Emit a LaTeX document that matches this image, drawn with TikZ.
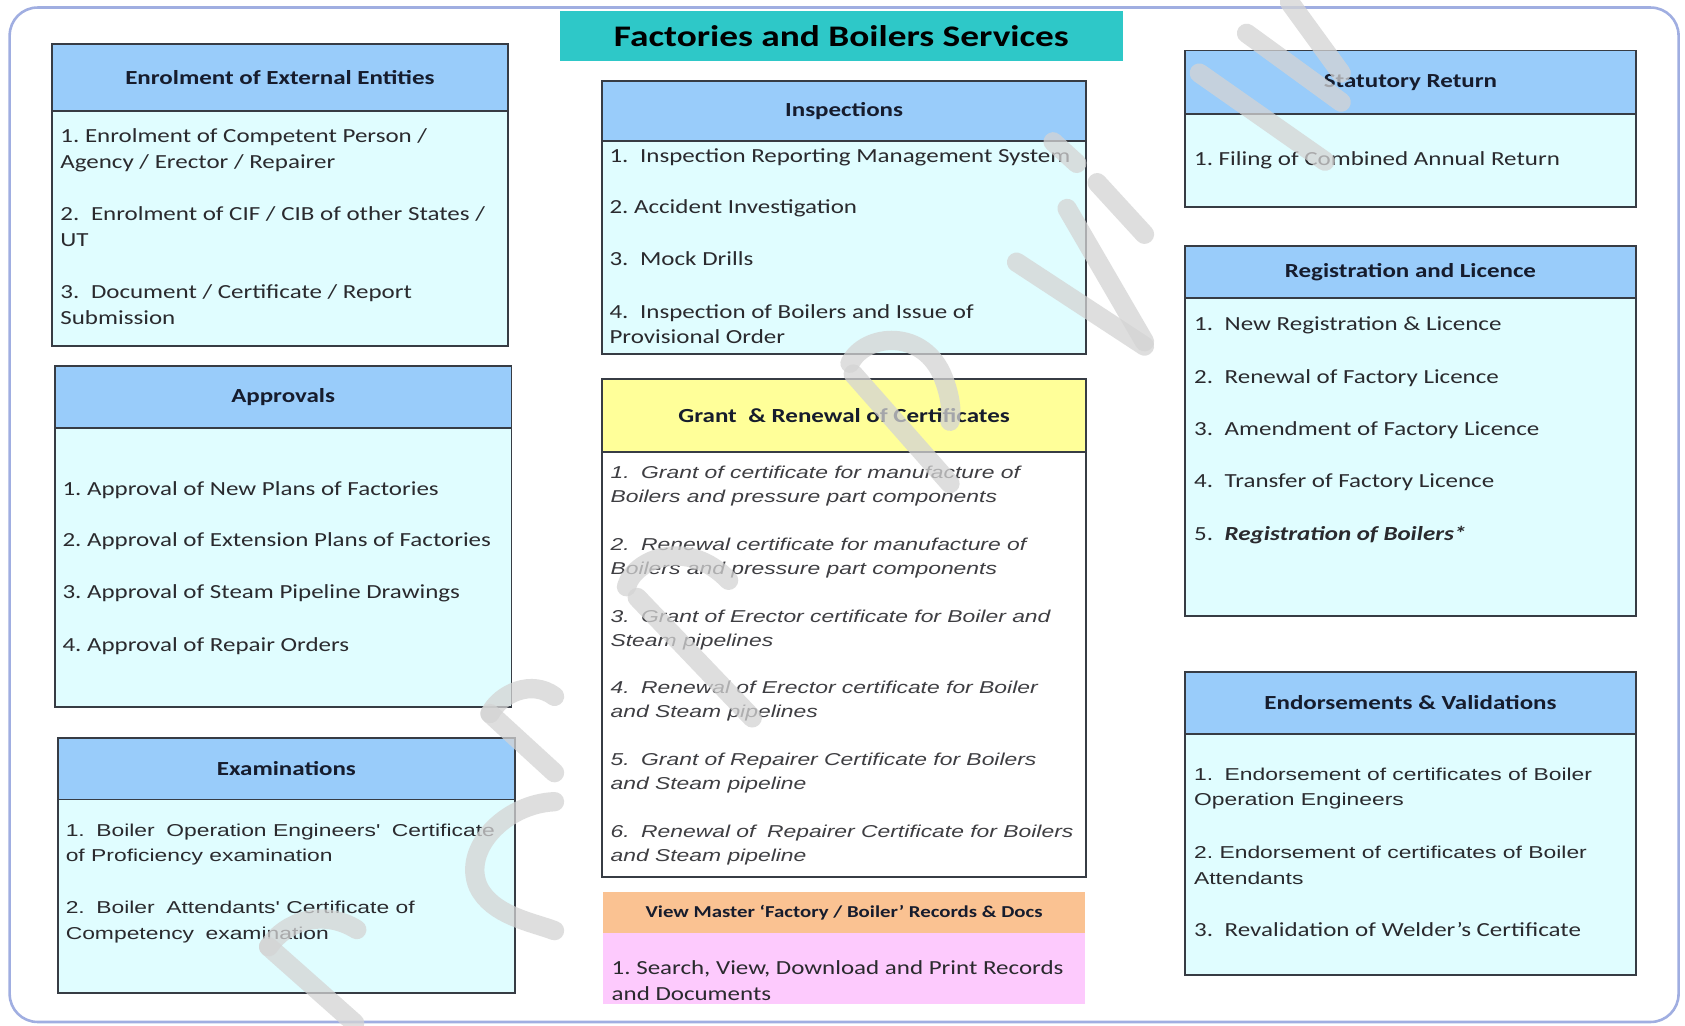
\documentclass[tikz,border=0pt]{standalone}
\usepackage{fontspec}
\setmainfont{Carlito}[FakeStretch=1.25]
\newfontfamily\arialfont{Liberation Sans}[FakeStretch=1.33]
\definecolor{hdrblue}{RGB}{153,204,250}
\definecolor{bodycyan}{RGB}{224,253,255}
\definecolor{boxline}{RGB}{55,60,68}
\definecolor{teal}{RGB}{46,200,200}
\definecolor{hdryellow}{RGB}{255,255,153}
\definecolor{hdrorange}{RGB}{250,194,146}
\definecolor{pinkbody}{RGB}{253,202,253}
\definecolor{framecol}{RGB}{160,174,225}
\definecolor{hdrtext}{RGB}{22,28,45}
\definecolor{itemtext}{RGB}{42,42,46}
\definecolor{granttext}{RGB}{62,62,66}
\definecolor{wmark}{RGB}{212,212,212}
\newcommand\ds{\ \hspace{0.3em}}
% name, x1, y1, x2, yh, y2, title, header fill, body fill
\newcommand\panel[9]{%
  \node[bodybox, fill=#9, minimum width={#4-#2}, minimum height={#6-#5}]
    (#1b) at ({(#2+#4)/2},{(#5+#6)/2}) {};
  \node[hdrbox, fill=#8, minimum width={#4-#2}, minimum height={#5-#3}]
    (#1h) at ({(#2+#4)/2},{(#3+#5)/2}) {#7};
}
\newcommand\itm[4][]{%
  \node[item,#1] (#2) at (#3) {\begin{tabular}[t]{@{}l@{}}#4\end{tabular}};}
\begin{document}
\begin{tikzpicture}[x=1pt,y=-1pt,
  bodybox/.style={draw=boxline, line width=1.8pt, inner sep=0pt},
  hdrbox/.style={draw=boxline, line width=1.8pt, inner sep=0pt, text=hdrtext,
    font=\fontsize{18.6}{22}\selectfont\bfseries},
  item/.style={anchor=base west, inner sep=0pt, text=itemtext,
    font=\frenchspacing\fontsize{18.6}{24}\selectfont},
  arial/.style={font=\frenchspacing\arialfont\fontsize{16}{24}\selectfont},
  grantit/.style={text=granttext,
    font=\frenchspacing\arialfont\itshape\fontsize{16}{22.5}\selectfont},
  titlebox/.style={fill=teal, inner sep=0pt, text=black,
    font=\fontsize{27.8}{30}\selectfont\bfseries},
  wm/.style={draw=wmark, line width=18pt, line cap=round, opacity=0.75}]
\useasboundingbox (0,0) rectangle (1568,954);
\fill[white] (0,0) rectangle (1568,954);
\draw[framecol, line width=2.4pt, rounded corners=26pt] (9,7) rectangle (1562,951);

% title
\node[titlebox, minimum width=524, minimum height=47] (title) at (783,33.5)
  {Factories and Boilers Services};

% left column
\panel{enr}{48}{41}{473}{103}{322}{Enrolment of External Entities}{hdrblue}{bodycyan}
\itm{enr1}{56,133}{1. Enrolment of Competent Person /\\Agency / Erector / Repairer}
\itm{enr2}{56,205}{2.\ds Enrolment of CIF / CIB of other States /\\UT}
\itm{enr3}{56,278}{3.\ds Document / Certificate / Report\\Submission}

\panel{app}{51}{341}{476}{398}{658}{Approvals}{hdrblue}{bodycyan}
\itm{app1}{58,461}{1. Approval of New Plans of Factories}
\itm{app2}{58,509}{2. Approval of Extension Plans of Factories}
\itm{app3}{58,557}{3. Approval of Steam Pipeline Drawings}
\itm{app4}{58,606}{4. Approval of Repair Orders}

\panel{exa}{54}{687}{479}{744}{924}{Examinations}{hdrblue}{bodycyan}
\itm[arial]{exa1}{61,778}{1.\ds Boiler\ds Operation Engineers'\ds Certificate\\of Proficiency examination}
\itm[arial]{exa2}{61,850}{2.\ds Boiler\ds Attendants' Certificate of\\Competency\ds examination}

% middle column
\panel{ins}{560}{75}{1011}{131}{329}{Inspections}{hdrblue}{bodycyan}
\itm{ins1}{567,151}{1.\ds Inspection Reporting Management System}
\itm{ins2}{567,199}{2. Accident Investigation}
\itm{ins3}{567,247}{3.\ds Mock Drills}
\itm{ins4}{567,296}{4.\ds Inspection of Boilers and Issue of\\Provisional Order}

\panel{gra}{560}{353}{1011}{421}{816}{Grant\ds \& Renewal of Certificates}{hdryellow}{white}
\itm[grantit]{gra1}{568,445}{1.\ds Grant of certificate for manufacture of\\Boilers and pressure part components}
\itm[grantit]{gra2}{568,512}{2.\ds Renewal certificate for manufacture of\\Boilers and pressure part components}
\itm[grantit]{gra3}{568,579}{3.\ds Grant of Erector certificate for Boiler and\\Steam pipelines}
\itm[grantit]{gra4}{568,645}{4.\ds Renewal of Erector certificate for Boiler\\and Steam pipelines}
\itm[grantit]{gra5}{568,712}{5.\ds Grant of Repairer Certificate for Boilers\\and Steam pipeline}
\itm[grantit]{gra6}{568,779}{6.\ds Renewal of\ds Repairer Certificate for Boilers\\and Steam pipeline}

\node[fill=pinkbody, inner sep=0pt, minimum width=449, minimum height=66] (vmb) at (785.5,901) {};
\node[fill=hdrorange, inner sep=0pt, minimum width=449, minimum height=38, text=hdrtext,
  font=\fontsize{15.5}{18}\selectfont\bfseries] (vmh) at (785.5,849)
  {View Master `Factory / Boiler' Records \& Docs};
\itm{vm1}{569,907}{1. Search, View, Download and Print Records\\and Documents}

% right column
\panel{sta}{1103}{47}{1522}{106}{193}{Statutory Return}{hdrblue}{bodycyan}
\itm{sta1}{1111,154}{1. Filing of Combined Annual Return}

\panel{reg}{1103}{229}{1522}{277}{573}{Registration and Licence}{hdrblue}{bodycyan}
\itm{reg1}{1111,308}{1.\ds New Registration \& Licence}
\itm{reg2}{1111,357}{2.\ds Renewal of Factory Licence}
\itm{reg3}{1111,405}{3.\ds Amendment of Factory Licence}
\itm{reg4}{1111,454}{4.\ds Transfer of Factory Licence}
\itm{reg5}{1111,503}{5.\ds \textbf{\textit{Registration of Boilers*}}}

\panel{end}{1103}{625}{1522}{683}{907}{Endorsements \& Validations}{hdrblue}{bodycyan}
\itm[arial]{end1}{1111,726}{1.\ds Endorsement of certificates of Boiler\\Operation Engineers}
\itm[arial]{end2}{1111,799}{2. Endorsement of certificates of Boiler\\Attendants}
\itm{end3}{1111,871}{3.\ds Revalidation of Welder’s Certificate}

% faint diagonal watermark strokes
\draw[wm] (250,881) -- (330,952);
\draw[wm] (250,881) .. controls (265,858) and (300,845) .. (332,865);
\draw[wm] (456,664) .. controls (466,645) and (495,632) .. (516,648);
\draw[wm] (456,664) -- (516,719);
\draw[wm] (516,746) .. controls (470,748) and (430,790) .. (445,825)
  .. controls (458,852) and (495,858) .. (516,866);
\draw[wm] (583,546) .. controls (590,520) and (640,500) .. (678,540);
\draw[wm] (593,556) -- (700,668);
\draw[wm] (794,348) -- (884,450);
\draw[wm] (791,338) .. controls (805,310) and (860,305) .. (878,352)
  .. controls (888,378) and (884,392) .. (884,392);
\draw[wm] (980,132) -- (1002,152);
\draw[wm] (946,244) -- (1065,322);
\draw[wm] (993,194) -- (1065,318);
\draw[wm] (1021,170) -- (1065,218);
\draw[wm] (1116,68) -- (1233,150);
\draw[wm] (1160,31) -- (1248,95);
\draw[wm] (1200,2) -- (1248,68);
\end{tikzpicture}
\end{document}
